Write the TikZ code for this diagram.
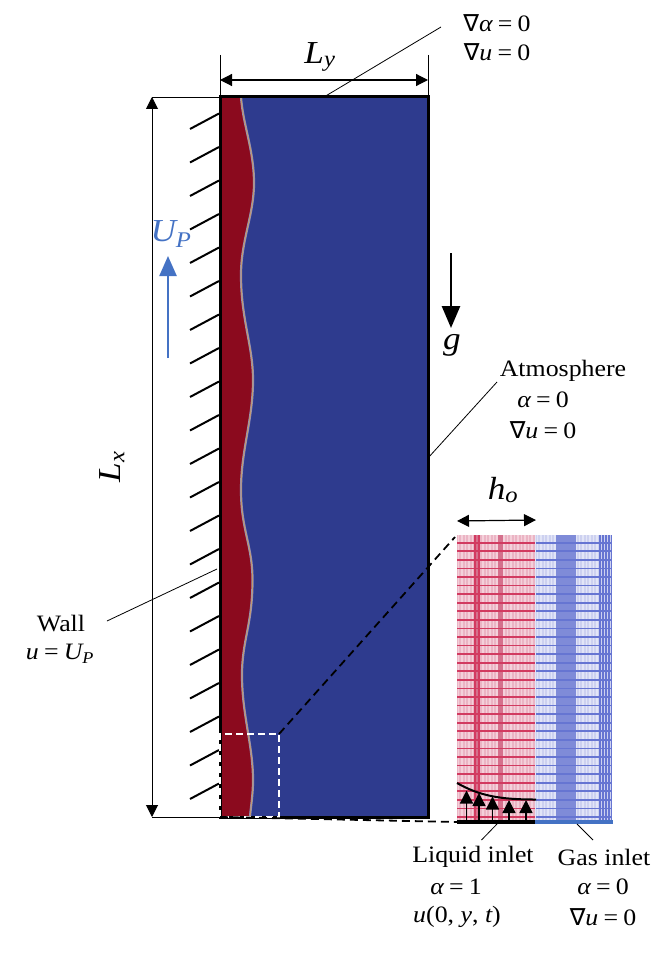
\documentclass[tikz,border=0pt]{standalone}
\usepackage{fontspec}
\setmainfont{Liberation Serif}[FakeStretch=1.1]
\newfontfamily\symfont{DejaVu Sans}
\usetikzlibrary{arrows.meta}

\definecolor{liquidred}{HTML}{8B0A1E}
\definecolor{gasblue}{HTML}{2E3B8E}
\definecolor{meshred}{HTML}{EBB4C4}
\definecolor{meshredfine}{HTML}{F4D0DA}
\definecolor{meshredline}{HTML}{D23A60}
\definecolor{meshredband}{HTML}{D5708C}
\definecolor{meshblue}{HTML}{CDD1F0}
\definecolor{meshbluefine}{HTML}{E2E5F7}
\definecolor{meshblueline}{HTML}{6675D2}
\definecolor{meshblueband}{HTML}{7F8BD8}
\definecolor{wallblue}{HTML}{4472C4}

\newcommand{\nab}{{\symfont ∇}}
\newcommand{\iv}[1]{{\itshape #1}}
\newcommand{\eqs}{\hspace{0.22em}=\hspace{0.22em}}
\newcommand{\film}{(241,97) .. controls (243,125) and (254,150) .. (254,183) .. controls (254,215) and (241,240) .. (241,275) .. controls (241,320) and (253,345) .. (253,380) .. controls (253,420) and (241,450) .. (241,490) .. controls (241,530) and (252.5,545) .. (252.5,580) .. controls (252.5,625) and (242,640) .. (242,675) .. controls (242,715) and (253,745) .. (253,780) .. controls (253,795) and (251,805) .. (250,817)}

\tikzset{
  lbl/.style={font=\fontsize{23.5}{26}\selectfont, inner sep=0pt},
  bigsym/.style={font=\fontsize{32}{34}\selectfont\itshape, inner sep=0pt},
  dimline/.style={{Triangle[width=12pt,length=12pt]}-{Triangle[width=12pt,length=12pt]}, line width=1.2pt},
  thinline/.style={line width=0.8pt},
  hatchline/.style={line width=2pt},
  inletarrow/.style={-{Triangle[width=13pt,length=13pt]}, line width=1.4pt}
}

\begin{document}
\begin{tikzpicture}[x=1pt,y=-1pt]
  \useasboundingbox (0,0) rectangle (664,971);

  % Define the corners of the domain
  \coordinate (TL) at (220,97);
  \coordinate (TR) at (428,97);
  \coordinate (BL) at (220,817);
  \coordinate (BR) at (428,817);

  % Gas and liquid regions
  \fill[gasblue] (TL) rectangle (BR);
  \fill[liquidred] (TL) -- \film -- (BL) -- cycle;
  \draw[line width=2.2pt,color=blue!25!gray!70!white] \film;
  \draw[line width=1pt,color=orange!40!gray!80!white] \film;

  % Domain outline
  \draw[line width=3pt] (TL) rectangle (BR);

  % Wall hatching
  \foreach \i in {0,...,20}{
    \draw[hatchline] (190,{129+33.5*\i}) -- (219,{113.5+33.5*\i});
  }

  % Extension lines
  \draw[thinline] (220,55) -- (TL);
  \draw[thinline] (428,55) -- (TR);
  \draw[thinline] (152,97) -- (TL);
  \draw[thinline] (152,817) -- (BL);

  % Dimension arrows
  \coordinate (LyL) at (220,80);
  \coordinate (LyR) at (428,80);
  \coordinate (LxT) at (152,97);
  \coordinate (LxB) at (152,817);
  \draw[dimline] (LyL) -- (LyR);
  \draw[dimline,line width=1pt] (LxT) -- (LxB);

  % Symbols
  \node[bigsym] (Ly) at (320,57) {L\textsubscript{y}};
  \node[bigsym,rotate=90] (Lx) at (112,467) {L\textsubscript{x}};
  \node[bigsym,text=wallblue] (Up) at (171,234) {U\textsubscript{P}};
  \node[bigsym] (g) at (452,345) {g};
  \node[bigsym] (ho) at (503,490) {h\textsubscript{o}};

  % Wall velocity and gravity
  \coordinate (UpS) at (168,358);
  \coordinate (UpE) at (168,256);
  \coordinate (gS) at (451,253);
  \coordinate (gE) at (451,328);
  \draw[-{Triangle[width=17pt,length=20pt]},line width=2.4pt,wallblue] (UpS) -- (UpE);
  \draw[-{Triangle[width=18pt,length=22pt]},line width=2.6pt] (gS) -- (gE);

  % Mesh panel, liquid side
  \fill[meshred] (457,535) rectangle (535,822);
  \foreach \x in {458.5,462,...,534}{
    \draw[meshredfine,line width=1.2pt] (\x,535) -- (\x,822);
  }
  \fill[meshredband] (498,535) rectangle (503,822);
  \fill[meshredband] (474,535) rectangle (480,822);
  \foreach \x in {475,479}{
    \draw[meshredline,line width=1.2pt] (\x,535) -- (\x,822);
  }
  \foreach \k in {0,...,32}{
    \draw[meshredline,line width=1.7pt] (457,{542.7+8.57*\k}) -- (535,{542.7+8.57*\k});
  }

  % Mesh panel, gas side
  \fill[meshblue] (535,535) rectangle (612,822);
  \foreach \x in {537.5,541,...,598}{
    \draw[meshbluefine,line width=1.2pt] (\x,535) -- (\x,822);
  }
  \fill[meshblueband] (556,535) rectangle (576,822);
  \foreach \x in {600,603,606,609,611.5}{
    \draw[meshblueline,line width=1.2pt] (\x,535) -- (\x,822);
  }
  \foreach \k in {0,...,32}{
    \draw[meshblueline,line width=1.7pt] (535,{542.7+8.57*\k}) -- (612,{542.7+8.57*\k});
  }
  \draw[meshbluefine,line width=1.5pt] (535.5,535) -- (535.5,822);

  % Inlet profile
  \coordinate (InL) at (457,822);
  \coordinate (InM) at (535,822);
  \coordinate (InR) at (613,822);
  \foreach \x/\y in {466.5/790.5,479/793,492.5/796.5,509/800,526/800}{
    \draw[inletarrow] (\x,822) -- (\x,\y);
  }
  \draw[line width=2pt] (457,783) .. controls (480,796) and (500,799.5) .. (536,799.5);
  \draw[line width=3.4pt] (InL) -- (InM);
  \draw[line width=3.4pt,wallblue] (InM) -- (InR);

  % h_o arrow
  \coordinate (hoL) at (457,521);
  \coordinate (hoR) at (536,520);
  \draw[dimline] (hoL) -- (hoR);

  % Zoom window
  \coordinate (ZA) at (279,734);
  \coordinate (ZB) at (279,817);
  \coordinate (ZC) at (220,734);
  \draw[white,line width=1.8pt,dash pattern=on 7pt off 4pt] (BL) -- (ZC) -- (ZA) -- (ZB) -- (BL);
  \coordinate (MT) at (455,537);
  \draw[line width=1.8pt,dash pattern=on 8pt off 5pt] (ZA) -- (MT);
  \draw[line width=1.8pt,dash pattern=on 8pt off 5pt] (BL) -- (InL);

  % Boundary condition labels
  \node[lbl] (topa) at (497,23) {\nab\iv{α}\eqs 0};
  \node[lbl] (topb) at (497,52) {\nab\iv{u}\eqs 0};
  \node[lbl] (atm) at (563,371) {Atmosphere};
  \node[lbl] (atma) at (543,400) {\iv{α}\eqs 0};
  \node[lbl] (atmb) at (543,430) {\nab\iv{u}\eqs 0};
  \node[lbl] (wall) at (61,624) {Wall};
  \node[lbl] (wallb) at (60,654) {\iv{u}\eqs\iv{U\textsubscript{P}}};
  \node[lbl] (liq) at (473,857) {Liquid inlet};
  \node[lbl] (liqa) at (456,887) {\iv{α}\eqs 1};
  \node[lbl] (liqb) at (457,917) {\iv{u}(0, \iv{y}, \iv{t})};
  \node[lbl] (gas) at (604,857) {Gas inlet};
  \node[lbl] (gasa) at (603,887) {\iv{α}\eqs 0};
  \node[lbl] (gasb) at (603,917) {\nab\iv{u}\eqs 0};

  % Leader lines
  \coordinate (topP) at (324,97);
  \coordinate (atmP) at (428,458);
  \coordinate (wallP) at (217,569);
  \coordinate (liqP) at (497,824);
  \coordinate (gasP) at (577,824);
  \draw[thinline] (topP) -- (441,27);
  \draw[thinline] (atmP) -- (497,382);
  \draw[thinline] (wallP) -- (107,621);
  \draw[thinline] (liqP) -- (481.5,840);
  \draw[thinline] (gasP) -- (593,840);

\end{tikzpicture}
\end{document}
